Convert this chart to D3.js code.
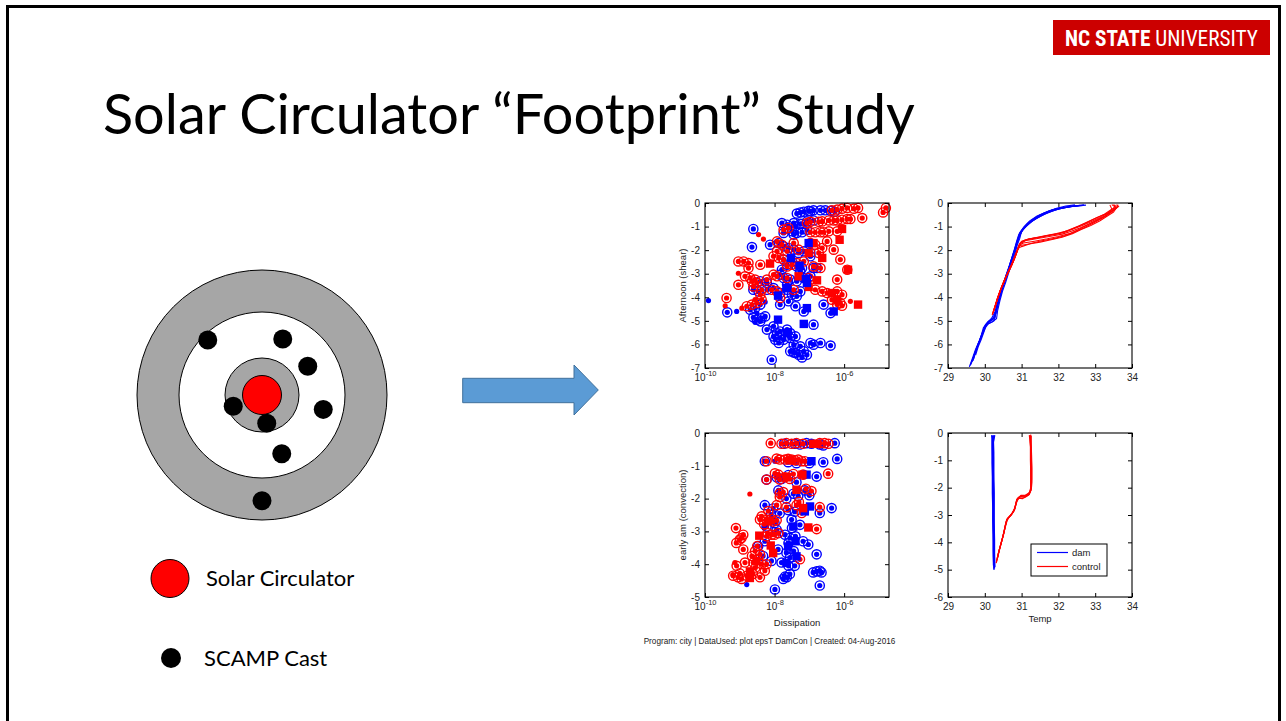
<!DOCTYPE html>
<html>
<head>
<meta charset="utf-8">
<script src="https://cdn.jsdelivr.net/npm/d3@7"></script>
<style>
  body { margin: 0; background: #fff; }
  svg { display: block; }
</style>
</head>
<body>
<svg id="slide" width="1286" height="721"></svg>
<script>
// ---------- site layout (offsets from the circulator, in units of outer ring radius) ----------
const ringRadii = [1.0, 0.664, 0.296];          // outer gray annulus, white ring, inner gray disc
const circulatorRadius = 0.156;
const castSites = [
  [-0.434, 0.44], [0.166, 0.448], [0.366, 0.23], [-0.23, -0.09],
  [0.49, -0.115], [0.038, -0.226], [0.158, -0.47], [0.0, -0.846]
];

// ---------- axis ticks ----------
const epsDecades = [-10, -8, -6];
const shearDepthTicks = [0, -1, -2, -3, -4, -5, -6, -7];
const convDepthTicks = [0, -1, -2, -3, -4, -5];
const convTempDepthTicks = [0, -1, -2, -3, -4, -5, -6];
const tempTicks = [29, 30, 31, 32, 33, 34];

// ---------- dissipation: [log10(eps), depth, marker]  o = ring, . = dot, s = square ----------
const shearDam = [
  [-7.36,-0.45,'o'],[-7.16,-0.37,'o'],[-7.02,-0.33,'o'],[-6.88,-0.31,'o'],[-6.68,-0.31,'o'],[-6.54,-0.31,'o'],
  [-6.39,-0.33,'o'],[-6.27,-0.37,'o'],[-7.26,-0.40,'o'],[-6.97,-0.35,'o'],
  [-7.79,-0.85,'o'],[-7.64,-0.92,'o'],[-7.45,-0.85,'o'],[-7.26,-0.88,'o'],[-7.07,-0.78,'o'],[-6.88,-0.74,'o'],
  [-7.40,-0.99,'o'],[-7.21,-0.89,'o'],[-8.61,-1.10,'o'],
  [-7.74,-1.27,'o'],[-7.50,-1.20,'o'],[-7.36,-1.27,'o'],[-7.21,-1.24,'o'],[-7.07,-1.13,'o'],[-7.45,-1.34,'o'],
  [-8.65,-1.87,'o'],[-8.13,-1.77,'o'],[-7.88,-1.70,'o'],[-7.74,-1.84,'o'],[-7.60,-1.91,'o'],[-7.45,-1.98,'o'],
  [-7.31,-2.12,'o'],[-7.16,-2.05,'o'],[-6.97,-2.12,'o'],
  [-7.79,-2.83,'o'],[-7.64,-2.62,'o'],[-7.50,-2.48,'o'],[-7.36,-2.69,'o'],[-7.26,-2.90,'o'],[-6.97,-2.26,'o'],
  [-6.88,-2.76,'o'],[-6.78,-2.76,'o'],[-7.21,-2.76,'o'],[-7.74,-2.40,'o'],
  [-8.41,-3.32,'o'],[-8.22,-3.39,'o'],[-7.84,-3.04,'o'],[-7.74,-3.18,'o'],[-7.55,-3.25,'o'],[-7.36,-3.32,'o'],
  [-7.16,-3.18,'o'],[-6.97,-3.11,'o'],[-7.64,-3.47,'o'],
  [-8.61,-3.68,'o'],[-8.46,-3.75,'o'],[-8.22,-3.68,'o'],[-8.03,-3.61,'o'],[-7.84,-3.82,'o'],[-7.64,-3.68,'o'],
  [-7.50,-3.89,'o'],[-7.36,-3.96,'o'],[-7.26,-3.75,'o'],
  [-9.36,-4.64,'o'],[-8.70,-4.53,'o'],[-8.56,-4.46,'o'],[-8.41,-4.31,'o'],[-7.84,-4.31,'o'],[-7.60,-4.17,'o'],
  [-7.40,-4.38,'o'],[-7.16,-4.60,'o'],[-6.59,-4.31,'o'],[-6.39,-4.67,'o'],
  [-8.61,-4.85,'o'],[-8.51,-4.95,'o'],[-8.37,-4.88,'o'],[-8.27,-4.81,'o'],[-8.41,-5.02,'o'],[-8.22,-5.37,'o'],
  [-8.03,-5.23,'o'],[-7.93,-5.52,'o'],[-7.84,-5.45,'o'],[-7.64,-5.37,'o'],[-7.55,-5.52,'o'],[-7.40,-5.66,'o'],
  [-6.88,-5.16,'o'],[-8.03,-5.66,'o'],[-7.84,-5.73,'o'],
  [-8.08,-6.65,'o'],[-7.98,-5.80,'o'],[-7.88,-5.94,'o'],[-7.74,-5.80,'o'],[-7.55,-5.73,'o'],[-7.45,-6.01,'o'],
  [-7.40,-6.36,'o'],[-7.31,-6.44,'o'],[-7.26,-6.08,'o'],[-7.16,-6.29,'o'],[-7.07,-6.44,'o'],[-6.97,-5.94,'o'],
  [-6.88,-6.01,'o'],[-6.68,-5.94,'o'],[-6.39,-6.05,'o'],[-7.45,-6.34,'o'],[-7.21,-6.55,'o'],[-7.55,-6.29,'o'],
  [-9.90,-4.14,'.'],[-9.09,-4.60,'.'],[-8.56,-5.06,'.'],[-8.51,-4.67,'.'],[-8.27,-4.20,'.'],
  [-7.02,-1.70,'s'],[-7.53,-2.33,'s'],[-7.28,-2.66,'s'],[-7.10,-3.22,'s'],[-7.07,-3.39,'s'],[-7.64,-3.61,'s'],
  [-7.90,-3.93,'s'],[-7.90,-4.95,'s'],[-7.64,-5.52,'s'],[-7.16,-5.13,'s'],[-7.07,-4.46,'s'],[-6.30,-4.60,'s']
];
const shearControl = [
  [-6.20,-0.28,'o'],[-6.06,-0.24,'o'],[-5.91,-0.21,'o'],[-5.72,-0.24,'o'],[-5.60,-0.21,'o'],[-6.35,-0.31,'o'],
  [-4.88,-0.40,'o'],[-4.80,-0.21,'o'],[-5.48,-0.64,'o'],
  [-6.63,-0.78,'o'],[-6.44,-0.74,'o'],[-6.30,-0.74,'o'],[-6.20,-0.74,'o'],[-6.06,-0.71,'o'],[-5.91,-0.68,'o'],
  [-5.82,-0.68,'o'],[-6.73,-0.80,'o'],[-7.07,-0.85,'o'],[-6.97,-0.80,'o'],
  [-7.74,-1.13,'o'],[-6.97,-1.24,'o'],[-6.83,-1.24,'o'],[-6.68,-1.24,'o'],[-6.59,-1.24,'o'],[-6.44,-1.20,'o'],
  [-6.20,-1.20,'o'],[-7.60,-1.06,'o'],
  [-7.93,-1.63,'o'],[-7.79,-1.77,'o'],[-7.93,-2.05,'o'],[-7.64,-2.05,'o'],[-7.45,-1.70,'o'],[-7.31,-1.98,'o'],
  [-6.97,-1.70,'o'],[-6.83,-1.77,'o'],[-6.63,-1.91,'o'],[-6.49,-1.63,'o'],[-6.30,-1.98,'o'],[-6.73,-2.12,'o'],
  [-6.11,-2.40,'o'],
  [-9.04,-2.48,'o'],[-8.89,-2.48,'o'],[-8.75,-2.55,'o'],[-8.75,-2.76,'o'],[-8.41,-2.62,'o'],[-8.03,-2.26,'o'],
  [-7.88,-2.33,'o'],[-7.74,-2.40,'o'],[-7.64,-2.69,'o'],[-7.50,-2.62,'o'],[-7.36,-2.55,'o'],[-7.16,-2.48,'o'],
  [-6.88,-2.69,'o'],[-6.68,-2.76,'o'],
  [-9.04,-3.47,'o'],[-8.85,-3.11,'o'],[-8.70,-3.18,'o'],[-8.65,-3.32,'o'],[-8.56,-3.25,'o'],[-8.51,-3.39,'o'],
  [-8.22,-3.25,'o'],[-8.03,-3.04,'o'],[-7.93,-3.11,'o'],[-7.64,-3.18,'o'],[-7.02,-3.18,'o'],[-6.20,-3.25,'o'],
  [-5.91,-2.83,'o'],
  [-8.61,-3.54,'o'],[-8.37,-3.68,'o'],[-8.41,-3.89,'o'],[-8.08,-3.68,'o'],[-7.93,-3.75,'o'],[-7.84,-4.03,'o'],
  [-7.45,-3.68,'o'],[-6.83,-3.68,'o'],[-6.63,-3.75,'o'],[-6.49,-3.82,'o'],[-6.20,-3.75,'o'],[-6.06,-3.89,'o'],
  [-9.38,-4.03,'o'],[-8.80,-4.38,'o'],[-8.65,-4.31,'o'],[-8.51,-4.24,'o'],[-8.37,-4.10,'o'],[-6.20,-4.31,'o'],
  [-6.11,-4.24,'o'],[-6.35,-4.10,'o'],[-6.06,-4.36,'o'],
  [-8.32,-1.53,'.'],[-8.46,-1.34,'.'],[-9.04,-2.98,'.'],[-9.42,-4.36,'.'],[-8.94,-4.46,'.'],[-5.82,-4.17,'.'],
  [-8.56,-4.10,'.'],
  [-8.13,-2.57,'s'],[-7.31,-3.11,'s'],[-7.02,-3.56,'s'],[-6.78,-3.28,'s'],[-6.63,-2.33,'s'],[-6.13,-1.56,'s'],
  [-6.06,-1.10,'s'],[-5.89,-2.83,'s'],[-6.35,-3.82,'s'],[-5.60,-4.31,'s'],[-7.02,-2.12,'s'],[-6.88,-1.70,'s'],
  [-6.20,-4.10,'s']
];
const convDam = [
  [-7.73,-0.33,'o'],[-7.42,-0.33,'o'],[-7.27,-0.35,'o'],[-7.08,-0.31,'o'],[-6.94,-0.33,'o'],[-6.70,-0.35,'o'],
  [-6.27,-0.31,'o'],[-6.60,-0.38,'o'],
  [-8.28,-0.86,'o'],[-7.61,-0.89,'o'],[-7.37,-0.92,'o'],[-6.60,-0.89,'o'],[-6.20,-0.79,'o'],[-7.00,-0.92,'o'],
  [-8.23,-1.42,'o'],[-7.94,-1.35,'o'],[-7.80,-1.40,'o'],[-7.37,-1.50,'o'],[-6.79,-1.33,'o'],[-7.60,-1.28,'o'],
  [-7.89,-1.75,'o'],[-7.66,-2.00,'o'],[-7.46,-1.85,'o'],[-7.32,-1.92,'o'],[-7.13,-1.75,'o'],[-7.00,-1.90,'o'],
  [-8.28,-2.20,'o'],[-8.04,-2.30,'o'],[-7.85,-2.45,'o'],[-7.61,-2.35,'o'],[-7.42,-2.40,'o'],[-6.70,-2.44,'o'],
  [-6.36,-2.29,'o'],[-8.10,-2.50,'o'],
  [-8.23,-2.85,'o'],[-7.94,-2.95,'o'],[-7.51,-2.64,'o'],[-7.27,-2.80,'o'],[-7.50,-2.90,'o'],[-8.00,-2.75,'o'],
  [-8.28,-3.30,'o'],[-7.89,-3.05,'o'],[-7.70,-3.10,'o'],[-7.56,-3.20,'o'],[-7.18,-3.30,'o'],[-7.03,-3.40,'o'],
  [-7.40,-3.15,'o'],[-7.60,-3.35,'o'],
  [-8.47,-3.45,'o'],[-7.66,-3.65,'o'],[-6.79,-3.70,'o'],[-7.90,-3.55,'o'],[-7.45,-3.60,'o'],
  [-8.33,-3.75,'o'],[-8.09,-3.90,'o'],[-7.80,-3.95,'o'],[-7.56,-3.80,'o'],[-7.42,-4.05,'o'],[-7.60,-4.05,'o'],
  [-7.75,-4.45,'o'],[-7.65,-4.40,'o'],[-7.56,-4.30,'o'],[-6.89,-4.25,'o'],[-6.79,-4.22,'o'],[-6.70,-4.20,'o'],
  [-6.65,-4.25,'o'],[-6.70,-4.65,'o'],[-7.99,-4.77,'o'],[-7.70,-4.38,'o'],
  [-8.80,-4.62,'.'],[-7.99,-0.86,'.'],[-8.30,-2.90,'.'],
  [-6.94,-0.86,'s'],[-7.08,-1.27,'s'],[-6.98,-2.24,'s'],[-7.13,-2.39,'s'],[-7.46,-2.85,'s'],[-7.61,-3.46,'s'],
  [-7.66,-3.96,'s'],[-7.37,-3.76,'s'],[-7.40,-3.30,'s']
];
const convControl = [
  [-8.11,-0.31,'o'],[-7.80,-0.33,'o'],[-7.66,-0.31,'o'],[-7.51,-0.33,'o'],[-7.37,-0.31,'o'],[-7.18,-0.33,'o'],
  [-6.70,-0.31,'o'],[-6.56,-0.31,'o'],[-6.45,-0.33,'o'],
  [-8.23,-0.86,'o'],[-7.94,-0.78,'o'],[-7.85,-0.81,'o'],[-7.70,-0.81,'o'],[-7.61,-0.79,'o'],[-7.51,-0.81,'o'],
  [-7.42,-0.83,'o'],[-7.32,-0.81,'o'],[-7.22,-0.86,'o'],[-7.13,-0.86,'o'],
  [-7.99,-1.23,'o'],[-7.89,-1.27,'o'],[-7.70,-1.35,'o'],[-7.46,-1.25,'o'],[-7.18,-1.27,'o'],[-6.46,-1.24,'o'],
  [-8.23,-1.42,'o'],[-7.85,-1.42,'o'],[-7.56,-1.40,'o'],
  [-7.85,-1.84,'o'],[-7.75,-1.80,'o'],[-6.94,-1.77,'o'],[-7.10,-1.70,'o'],[-7.85,-1.95,'o'],
  [-8.18,-2.38,'o'],[-7.94,-2.20,'o'],[-7.66,-2.26,'o'],[-7.37,-2.20,'o'],[-7.22,-2.44,'o'],[-6.70,-2.26,'o'],
  [-7.30,-2.10,'o'],
  [-8.42,-2.64,'o'],[-8.37,-2.54,'o'],[-8.23,-2.65,'o'],[-8.09,-2.62,'o'],[-8.04,-2.70,'o'],[-7.94,-2.66,'o'],
  [-8.30,-2.78,'o'],
  [-9.11,-2.90,'o'],[-6.79,-2.93,'o'],[-8.20,-3.05,'o'],[-8.00,-3.10,'o'],
  [-9.00,-3.25,'o'],[-8.90,-3.10,'o'],[-9.10,-3.35,'o'],[-8.23,-3.15,'o'],[-8.09,-3.10,'o'],[-7.89,-3.05,'o'],
  [-8.95,-3.20,'o'],
  [-8.90,-3.55,'o'],[-8.56,-3.60,'o'],[-8.42,-3.70,'o'],[-8.65,-3.75,'o'],[-8.50,-3.45,'o'],
  [-9.09,-4.05,'o'],[-8.85,-3.95,'o'],[-8.61,-3.95,'o'],[-8.47,-3.85,'o'],[-8.37,-4.00,'o'],[-8.23,-4.00,'o'],
  [-7.27,-3.85,'o'],[-8.55,-4.10,'o'],
  [-9.19,-4.35,'o'],[-9.05,-4.40,'o'],[-8.95,-4.45,'o'],[-8.80,-4.35,'o'],[-8.62,-4.30,'o'],[-8.42,-4.40,'o'],
  [-8.28,-4.20,'o'],[-9.00,-4.28,'o'],
  [-8.71,-1.86,'.'],[-9.14,-3.95,'.'],[-9.20,-4.32,'.'],
  [-6.89,-0.33,'s'],[-6.79,-0.33,'s'],[-7.56,-0.83,'s'],[-7.65,-1.34,'s'],[-7.37,-1.73,'s'],[-7.18,-2.29,'s'],
  [-8.18,-2.69,'s'],[-7.03,-2.88,'s'],[-8.44,-3.13,'s'],[-8.11,-3.43,'s'],[-8.04,-3.66,'s'],[-8.52,-3.91,'s'],
  [-8.71,-4.22,'s'],[-8.71,-4.42,'s'],[-7.20,-1.27,'s']
];

// ---------- temperature profiles: [temp, depth] ----------
const shearDamProfiles = [
  [[29.58,-6.95],[29.66,-6.6],[29.75,-6.2],[29.85,-5.85],[29.93,-5.5],[30.02,-5.15],[30.15,-5.0],[30.26,-4.8],[30.33,-4.4],[30.39,-4.0],[30.47,-3.6],[30.55,-3.2],[30.64,-2.8],[30.72,-2.4],[30.80,-2.0],[30.86,-1.65],[30.92,-1.35],[31.05,-1.05],[31.2,-0.85],[31.36,-0.65],[31.58,-0.45],[31.85,-0.28],[32.3,-0.15],[32.75,-0.09]],
  [[29.62,-6.85],[29.7,-6.5],[29.8,-6.1],[29.88,-5.75],[29.97,-5.4],[30.08,-5.05],[30.22,-4.95],[30.3,-4.7],[30.36,-4.3],[30.43,-3.9],[30.5,-3.5],[30.6,-3.1],[30.68,-2.7],[30.76,-2.3],[30.84,-1.95],[30.9,-1.6],[30.97,-1.3],[31.1,-1.0],[31.25,-0.8],[31.45,-0.6],[31.7,-0.42],[32.0,-0.25],[32.4,-0.14],[32.6,-0.1]],
  [[29.7,-6.6],[29.76,-6.3],[29.85,-5.9],[29.92,-5.6],[30.0,-5.25],[30.12,-5.05],[30.28,-4.85],[30.31,-4.5],[30.38,-4.1],[30.45,-3.7],[30.53,-3.3],[30.62,-2.9],[30.7,-2.5],[30.79,-2.1],[30.86,-1.75],[30.93,-1.45],[31.02,-1.15],[31.15,-0.95],[31.32,-0.72],[31.52,-0.52],[31.78,-0.36],[32.1,-0.22],[32.5,-0.12]],
  [[29.75,-6.45],[29.82,-6.1],[29.9,-5.8],[29.98,-5.45],[30.05,-5.15],[30.2,-5.05],[30.32,-4.9],[30.35,-4.55],[30.41,-4.15],[30.48,-3.75],[30.57,-3.35],[30.65,-2.95],[30.74,-2.55],[30.82,-2.15],[30.88,-1.8],[30.95,-1.5],[31.0,-1.2],[31.12,-1.0],[31.28,-0.78],[31.48,-0.58],[31.7,-0.38],[31.95,-0.22],[32.2,-0.13],[32.45,-0.08]],
  [[29.65,-6.75],[29.72,-6.4],[29.81,-6.0],[29.9,-5.65],[29.96,-5.3],[30.05,-5.1],[30.18,-4.9],[30.27,-4.65],[30.34,-4.25],[30.42,-3.85],[30.5,-3.45],[30.58,-3.05],[30.67,-2.65],[30.75,-2.25],[30.83,-1.85],[30.89,-1.55],[30.95,-1.25],[31.08,-0.98],[31.22,-0.76],[31.42,-0.55],[31.65,-0.4],[31.92,-0.26],[32.35,-0.14],[32.7,-0.08]],
  [[29.6,-6.9],[29.69,-6.55],[29.78,-6.15],[29.87,-5.8],[29.95,-5.45],[30.03,-5.2],[30.1,-5.02],[30.24,-4.9],[30.3,-4.6],[30.37,-4.2],[30.44,-3.8],[30.52,-3.4],[30.6,-3.0],[30.69,-2.6],[30.77,-2.2],[30.85,-1.8],[30.91,-1.5],[30.99,-1.2],[31.14,-0.9],[31.3,-0.7],[31.5,-0.5],[31.75,-0.33],[32.05,-0.2],[32.55,-0.11]],
  [[29.68,-6.7],[29.74,-6.35],[29.83,-5.95],[29.93,-5.6],[30.01,-5.3],[30.1,-5.12],[30.25,-5.0],[30.29,-4.75],[30.35,-4.35],[30.42,-3.95],[30.5,-3.55],[30.59,-3.15],[30.67,-2.75],[30.74,-2.4],[30.81,-2.05],[30.87,-1.7],[30.94,-1.4],[31.04,-1.1],[31.18,-0.88],[31.38,-0.68],[31.62,-0.48],[31.9,-0.3],[32.25,-0.17],[32.68,-0.1]]
];
const shearControlProfiles = [
  [[30.2,-4.75],[30.26,-4.45],[30.33,-4.1],[30.41,-3.75],[30.5,-3.4],[30.6,-3.05],[30.7,-2.75],[30.8,-2.4],[30.88,-2.05],[30.93,-1.8],[31.0,-1.62],[31.2,-1.52],[31.5,-1.45],[31.85,-1.35],[32.15,-1.25],[32.4,-1.1],[32.65,-0.95],[32.9,-0.78],[33.15,-0.6],[33.35,-0.42],[33.5,-0.22],[33.55,-0.08]],
  [[30.24,-4.6],[30.3,-4.3],[30.37,-3.95],[30.45,-3.6],[30.55,-3.25],[30.64,-2.9],[30.74,-2.6],[30.83,-2.25],[30.9,-1.95],[30.95,-1.72],[31.08,-1.58],[31.3,-1.5],[31.6,-1.4],[31.95,-1.3],[32.25,-1.18],[32.5,-1.02],[32.75,-0.85],[33.0,-0.66],[33.25,-0.48],[33.42,-0.3],[33.6,-0.15],[33.62,-0.07]],
  [[30.22,-4.68],[30.28,-4.38],[30.35,-4.02],[30.43,-3.68],[30.52,-3.32],[30.62,-2.98],[30.72,-2.68],[30.81,-2.33],[30.89,-2.0],[30.93,-1.9],[31.0,-1.85],[31.25,-1.72],[31.55,-1.6],[31.9,-1.5],[32.2,-1.38],[32.45,-1.22],[32.7,-1.05],[32.95,-0.85],[33.2,-0.64],[33.38,-0.45],[33.45,-0.25],[33.4,-0.08]],
  [[30.26,-4.5],[30.32,-4.2],[30.39,-3.85],[30.48,-3.5],[30.57,-3.15],[30.67,-2.82],[30.76,-2.5],[30.85,-2.15],[30.91,-1.88],[30.97,-1.68],[31.15,-1.55],[31.4,-1.48],[31.7,-1.38],[32.05,-1.28],[32.3,-1.14],[32.55,-0.98],[32.8,-0.8],[33.05,-0.62],[33.3,-0.46],[33.5,-0.3],[33.65,-0.12]],
  [[30.21,-4.72],[30.29,-4.35],[30.36,-4.0],[30.44,-3.65],[30.53,-3.3],[30.63,-2.95],[30.73,-2.63],[30.82,-2.3],[30.9,-1.98],[30.95,-1.78],[31.05,-1.7],[31.35,-1.62],[31.7,-1.52],[32.0,-1.42],[32.3,-1.3],[32.55,-1.12],[32.8,-0.92],[33.05,-0.72],[33.28,-0.54],[33.45,-0.36],[33.55,-0.18],[33.5,-0.06]],
  [[30.28,-4.4],[30.34,-4.05],[30.42,-3.7],[30.51,-3.35],[30.61,-3.0],[30.7,-2.7],[30.79,-2.35],[30.87,-2.02],[30.94,-1.75],[31.1,-1.6],[31.4,-1.52],[31.75,-1.42],[32.1,-1.32],[32.35,-1.2],[32.6,-1.05],[32.85,-0.88],[33.1,-0.7],[33.3,-0.52],[33.48,-0.34],[33.62,-0.16],[33.58,-0.07]],
  [[30.23,-4.62],[30.31,-4.25],[30.38,-3.9],[30.46,-3.55],[30.56,-3.2],[30.66,-2.88],[30.75,-2.55],[30.84,-2.2],[30.9,-1.92],[30.96,-1.8],[31.2,-1.74],[31.5,-1.66],[31.8,-1.56],[32.1,-1.45],[32.38,-1.3],[32.62,-1.12],[32.88,-0.95],[33.12,-0.76],[33.32,-0.56],[33.5,-0.38],[33.58,-0.2],[33.45,-0.07]]
];
const convDamProfiles = [
  [[30.25,-5.0],[30.24,-4.5],[30.24,-4.0],[30.23,-3.5],[30.23,-3.0],[30.23,-2.5],[30.22,-2.0],[30.22,-1.5],[30.22,-1.0],[30.21,-0.5],[30.21,-0.1]],
  [[30.27,-4.9],[30.26,-4.4],[30.26,-3.9],[30.25,-3.3],[30.25,-2.8],[30.25,-2.2],[30.24,-1.7],[30.24,-1.2],[30.24,-0.7],[30.23,-0.3],[30.24,-0.08]],
  [[30.26,-4.95],[30.25,-4.2],[30.25,-3.6],[30.24,-3.1],[30.24,-2.6],[30.24,-2.1],[30.23,-1.4],[30.23,-0.9],[30.22,-0.4],[30.26,-0.12],[30.27,-0.08]],
  [[30.24,-4.85],[30.23,-4.3],[30.23,-3.7],[30.22,-3.2],[30.22,-2.7],[30.21,-2.2],[30.21,-1.6],[30.2,-1.1],[30.2,-0.6],[30.2,-0.2],[30.19,-0.08]]
];
const convControlProfiles = [
  [[30.31,-4.76],[30.36,-4.45],[30.42,-4.15],[30.48,-3.85],[30.53,-3.55],[30.57,-3.3],[30.6,-3.15],[30.68,-3.05],[30.76,-2.9],[30.81,-2.8],[30.84,-2.6],[30.87,-2.42],[30.96,-2.32],[31.08,-2.35],[31.18,-2.27],[31.24,-2.15],[31.26,-1.9],[31.26,-1.4],[31.26,-0.9],[31.25,-0.5],[31.23,-0.08]],
  [[30.33,-4.65],[30.38,-4.35],[30.44,-4.05],[30.5,-3.75],[30.55,-3.45],[30.59,-3.22],[30.64,-3.1],[30.72,-3.0],[30.79,-2.85],[30.83,-2.7],[30.86,-2.5],[30.9,-2.38],[31.0,-2.3],[31.12,-2.3],[31.2,-2.22],[31.25,-2.05],[31.27,-1.7],[31.27,-1.2],[31.26,-0.7],[31.25,-0.3],[31.24,-0.1]],
  [[30.35,-4.55],[30.4,-4.25],[30.46,-3.95],[30.52,-3.65],[30.56,-3.38],[30.6,-3.2],[30.66,-3.08],[30.74,-2.95],[30.8,-2.82],[30.84,-2.65],[30.88,-2.45],[30.94,-2.34],[31.05,-2.34],[31.15,-2.26],[31.22,-2.18],[31.25,-2.0],[31.25,-1.5],[31.24,-1.0],[31.24,-0.5],[31.22,-0.2],[31.21,-0.08]],
  [[30.32,-4.7],[30.37,-4.4],[30.43,-4.1],[30.49,-3.8],[30.54,-3.5],[30.58,-3.25],[30.62,-3.12],[30.7,-3.02],[30.78,-2.88],[30.82,-2.75],[30.85,-2.55],[30.89,-2.4],[30.98,-2.28],[31.1,-2.28],[31.19,-2.2],[31.26,-2.1],[31.28,-1.8],[31.28,-1.3],[31.27,-0.8],[31.26,-0.4],[31.26,-0.1]],
  [[30.34,-4.6],[30.39,-4.3],[30.45,-4.0],[30.51,-3.7],[30.56,-3.42],[30.61,-3.18],[30.67,-3.06],[30.75,-2.92],[30.8,-2.78],[30.85,-2.58],[30.88,-2.48],[30.93,-2.38],[31.03,-2.4],[31.13,-2.32],[31.21,-2.25],[31.24,-2.12],[31.25,-1.85],[31.25,-1.3],[31.25,-0.75],[31.24,-0.35],[31.25,-0.06]]
];
const legendLabels = ['dam', 'control'];

// ---------- styles ----------
const DAM = '#0000ff', CONTROL = '#ff0000';
const tickFont = '"Liberation Sans", Arial, sans-serif';
const svg = d3.select('#slide');

// slide frame
svg.append('rect').attr('x', 7.5).attr('y', 6.5).attr('width', 1272).attr('height', 730)
  .attr('fill', '#fff').attr('stroke', '#000').attr('stroke-width', 3);

// university bar
const logo = svg.append('g');
logo.append('rect').attr('x', 1053).attr('y', 20).attr('width', 217).attr('height', 35).attr('fill', '#cc0000');
const logoText = logo.append('text').attr('x', 1065).attr('y', 45.5)
  .attr('font-family', '"Liberation Sans Narrow", "Roboto Condensed", "Liberation Sans", Arial, sans-serif')
  .attr('font-size', 22).attr('fill', '#fff').attr('textLength', 193).attr('lengthAdjust', 'spacingAndGlyphs');
logoText.append('tspan').attr('font-weight', 'bold').text('NC STATE');
logoText.append('tspan').text(' UNIVERSITY');

// title
const title = svg.append('text').attr('x', 103).attr('y', 134)
  .attr('font-family', '"Gill Sans", "Gill Sans MT", Lato, "Open Sans", sans-serif')
  .attr('font-size', 52).attr('fill', '#000')
  .text('Solar Circulator \u201CFootprint\u201D Study');
{
  const w = title.node().getComputedTextLength();
  title.attr('font-size', 52 * 812 / w);
}

// ---------- site diagram ----------
const site = d3.scaleLinear().domain([-1, 1]).range([-125, 125]);
const gSite = svg.append('g').attr('transform', 'translate(262,395)');
ringRadii.forEach((r, i) => {
  gSite.append('circle').attr('r', site(r) - site(0))
    .attr('fill', i === 1 ? '#fff' : '#a6a6a6').attr('stroke', '#000').attr('stroke-width', 1);
});
gSite.append('circle').attr('r', site(circulatorRadius) - site(0))
  .attr('fill', '#ff0000').attr('stroke', '#000').attr('stroke-width', 1);
gSite.selectAll('circle.cast').data(castSites).join('circle').attr('class', 'cast')
  .attr('cx', d => site(d[0])).attr('cy', d => -site(d[1])).attr('r', 9.5).attr('fill', '#000');

// site legend
svg.append('circle').attr('cx', 170).attr('cy', 578.5).attr('r', 19).attr('fill', '#ff0000').attr('stroke', '#000');
svg.append('text').attr('x', 206).attr('y', 586).attr('font-family', '"Gill Sans", Lato, "Open Sans", sans-serif')
  .attr('font-size', 22).text('Solar Circulator');
svg.append('circle').attr('cx', 171).attr('cy', 658).attr('r', 10).attr('fill', '#000');
svg.append('text').attr('x', 204).attr('y', 666).attr('font-family', '"Gill Sans", Lato, "Open Sans", sans-serif')
  .attr('font-size', 22).text('SCAMP Cast');

// arrow
svg.append('path')
  .attr('d', 'M462.7,378.3 L574,378.3 L574,365 L598.3,390 L574,415 L574,402.7 L462.7,402.7 Z')
  .attr('fill', '#5b9bd5').attr('stroke', '#41719c').attr('stroke-width', 1);

// ---------- plotting helpers ----------
function frameAxes(g, x, y, xTicks, yTicks, logX) {
  const [x0, x1] = x.range(), [y0, y1] = y.range();
  const style = sel => {
    sel.select('.domain').remove();
    sel.selectAll('line').attr('stroke', '#000');
    sel.selectAll('text').attr('font-family', tickFont).attr('font-size', 10).attr('fill', '#222');
  };
  const fmt = d => String(d);
  const xb = g.append('g').attr('transform', `translate(0,${y0})`)
    .call(d3.axisBottom(x).tickValues(xTicks).tickSizeInner(-4).tickSizeOuter(0).tickPadding(6)
      .tickFormat(logX ? () => '' : fmt)).call(style);
  if (logX) {
    xb.selectAll('.tick text').each(function (d) {
      const t = d3.select(this).text('');
      t.append('tspan').text('10');
      t.append('tspan').attr('dy', -5).attr('font-size', 7.5).text(String(Math.round(Math.log10(d))));
    });
  }
  g.append('g').attr('transform', `translate(0,${y1})`)
    .call(d3.axisTop(x).tickValues(xTicks).tickSizeInner(-4).tickSizeOuter(0).tickFormat(() => '')).call(style);
  g.append('g').attr('transform', `translate(${x0},0)`)
    .call(d3.axisLeft(y).tickValues(yTicks).tickSizeInner(-4).tickSizeOuter(0).tickPadding(5).tickFormat(fmt)).call(style);
  g.append('g').attr('transform', `translate(${x1},0)`)
    .call(d3.axisRight(y).tickValues(yTicks).tickSizeInner(-4).tickSizeOuter(0).tickFormat(() => '')).call(style);
  g.append('rect').attr('x', x0).attr('y', y1).attr('width', x1 - x0).attr('height', y0 - y1)
    .attr('fill', 'none').attr('stroke', '#000').attr('stroke-width', 1.1);
}

function scatter(g, x, y, data, color) {
  const px = d => x(Math.pow(10, d[0])), py = d => y(d[1]);
  const rings = data.filter(d => d[2] === 'o');
  g.selectAll(null).data(rings).join('circle').attr('cx', px).attr('cy', py).attr('r', 4.6)
    .attr('fill', 'none').attr('stroke', color).attr('stroke-width', 1.4);
  g.selectAll(null).data(data.filter(d => d[2] !== 's')).join('circle').attr('cx', px).attr('cy', py).attr('r', 2.6)
    .attr('fill', color);
}
function squares(g, x, y, data, color) {
  g.selectAll(null).data(data.filter(d => d[2] === 's')).join('rect')
    .attr('x', d => x(Math.pow(10, d[0])) - 4.2).attr('y', d => y(d[1]) - 4.2)
    .attr('width', 8.4).attr('height', 8.4).attr('fill', color);
}
function profiles(g, x, y, list, color, w) {
  const line = d3.line().x(d => x(d[0])).y(d => y(d[1]));
  g.selectAll(null).data(list).join('path').attr('d', line)
    .attr('fill', 'none').attr('stroke', color).attr('stroke-width', w).attr('stroke-linejoin', 'round');
}

const epsDomain = [1e-10, Math.pow(10, -4.71)];
const epsTicks = epsDecades.map(e => Math.pow(10, e));

// afternoon dissipation
{
  const g = svg.append('g');
  const x = d3.scaleLog().domain(epsDomain).range([705, 889]);
  const y = d3.scaleLinear().domain([-7, 0]).range([368, 203]);
  scatter(g, x, y, shearDam, DAM);
  scatter(g, x, y, shearControl, CONTROL);
  squares(g, x, y, shearControl, CONTROL);
  squares(g, x, y, shearDam, DAM);
  frameAxes(g, x, y, epsTicks, shearDepthTicks, true);
  g.append('text').attr('transform', 'translate(686,285.5) rotate(-90)').attr('text-anchor', 'middle')
    .attr('font-family', tickFont).attr('font-size', 9.5).attr('fill', '#222').text('Afternoon (shear)');
}
// afternoon temperature
{
  const g = svg.append('g');
  const x = d3.scaleLinear().domain([29, 34]).range([948, 1132]);
  const y = d3.scaleLinear().domain([-7, 0]).range([368, 203]);
  profiles(g, x, y, shearDamProfiles, DAM, 1.1);
  profiles(g, x, y, shearControlProfiles, CONTROL, 1.1);
  frameAxes(g, x, y, tempTicks, shearDepthTicks, false);
}
// early-morning dissipation
{
  const g = svg.append('g');
  const x = d3.scaleLog().domain(epsDomain).range([705, 889]);
  const y = d3.scaleLinear().domain([-5, 0]).range([597, 433]);
  scatter(g, x, y, convDam, DAM);
  scatter(g, x, y, convControl, CONTROL);
  squares(g, x, y, convDam, DAM);
  squares(g, x, y, convControl, CONTROL);
  frameAxes(g, x, y, epsTicks, convDepthTicks, true);
  g.append('text').attr('transform', 'translate(686,515) rotate(-90)').attr('text-anchor', 'middle')
    .attr('font-family', tickFont).attr('font-size', 9.5).attr('fill', '#222').text('early am (convection)');
  g.append('text').attr('x', 797).attr('y', 626).attr('text-anchor', 'middle')
    .attr('font-family', tickFont).attr('font-size', 9.5).attr('fill', '#222').text('Dissipation');
}
// early-morning temperature
{
  const g = svg.append('g');
  const x = d3.scaleLinear().domain([29, 34]).range([948, 1132]);
  const y = d3.scaleLinear().domain([-6, 0]).range([597, 433]);
  profiles(g, x, y, convDamProfiles, DAM, 1.6);
  profiles(g, x, y, convControlProfiles, CONTROL, 1.2);
  frameAxes(g, x, y, tempTicks, convTempDepthTicks, false);
  g.append('text').attr('x', 1040).attr('y', 622).attr('text-anchor', 'middle')
    .attr('font-family', tickFont).attr('font-size', 9.5).attr('fill', '#222').text('Temp');
  // legend
  const lg = g.append('g');
  lg.append('rect').attr('x', 1031).attr('y', 544).attr('width', 76).attr('height', 32)
    .attr('fill', '#fff').attr('stroke', '#000').attr('stroke-width', 1);
  [DAM, CONTROL].forEach((c, i) => {
    lg.append('line').attr('x1', 1037).attr('x2', 1068).attr('y1', 552.5 + i * 14).attr('y2', 552.5 + i * 14)
      .attr('stroke', c).attr('stroke-width', 1.2);
    lg.append('text').attr('x', 1072).attr('y', 556 + i * 14).attr('font-family', tickFont)
      .attr('font-size', 9.5).attr('fill', '#222').text(legendLabels[i]);
  });
}

// footer
svg.append('text').attr('x', 769.5).attr('y', 643.5).attr('text-anchor', 'middle')
  .attr('font-family', tickFont).attr('font-size', 8.2).attr('fill', '#222')
  .text('Program: city | DataUsed: plot epsT DamCon | Created: 04-Aug-2016');
</script>
</body>
</html>
